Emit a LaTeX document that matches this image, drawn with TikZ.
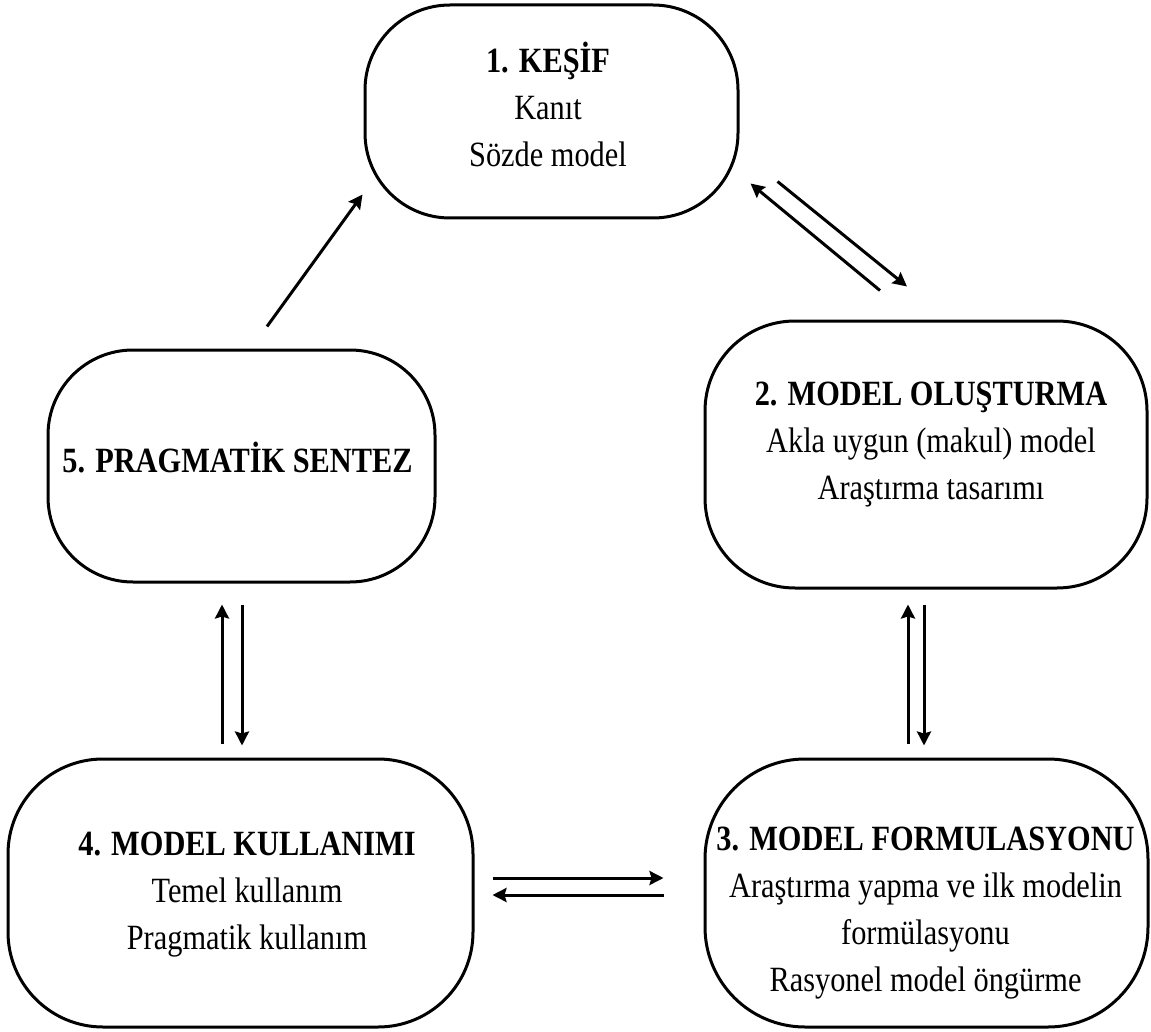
\documentclass[tikz,border=0pt]{standalone}
\usepackage{fontspec}
\setmainfont{Liberation Serif}[FakeStretch=0.855]
\usetikzlibrary{calc,arrows.meta}
\begin{document}
\begin{tikzpicture}[x=1pt,y=-1pt,
  box/.style={draw, line width=3pt, rounded corners=90pt, inner sep=0pt},
  txt/.style={align=center, font=\fontsize{35.5}{47}\selectfont, inner sep=0pt},
  arr/.style={line width=3pt, -{Stealth[length=14pt,width=14pt,inset=2pt]}}]
\useasboundingbox (0,0) rectangle (1151,1032);
% boxes
\node[box, minimum width=373pt, minimum height=213pt, rounded corners=85pt] (b1) at (551.5,111.5) {};
\node[box, minimum width=442pt, minimum height=267pt] (b2) at (926,454.5) {};
\node[box, minimum width=443pt, minimum height=268pt, rounded corners=100pt] (b3) at (926.5,893) {};
\node[box, minimum width=465pt, minimum height=268pt, rounded corners=95pt] (b4) at (240.5,893) {};
\node[box, minimum width=387pt, minimum height=232pt, rounded corners=85pt] (b5) at (241.5,466) {};
% texts
\node[txt] (t1) at (548,104) {\textbf{1. KEŞİF}\\Kanıt\\Sözde model};
\node[txt] (t2) at (931,445) {\textbf{2. MODEL OLUŞTURMA}\\Akla uygun (makul) model\\Araştırma tasarımı};
\node[txt] (t3) at (925.5,913) {\textbf{3. MODEL FORMULASYONU}\\Araştırma yapma ve ilk modelin\\formülasyonu\\Rasyonel model öngürme};
\node[txt] (t4) at (247,895) {\textbf{4. MODEL KULLANIMI}\\Temel kullanım\\Pragmatik kullanım};
\node[txt] (t5) at (237.5,458) {\textbf{5. PRAGMATİK SENTEZ}};
% connectors
\draw[arr] ($(b5.north)+(25.5,-22)$) -- ($(b1.south west)+(-1,-25)$);
\draw[arr] ($(b2.north)+(-46,-29)$) -- ($(b1.south east)+(11,-36)$);
\draw[arr] ($(b1.south east)+(38,-38)$) -- ($(b2.north)+(-19,-33)$);
\draw[arr] ($(b3.north)+(-18.5,-14)$) -- ($(b2.south)+(-18,15)$);
\draw[arr] ($(b2.south)+(-2,15)$) -- ($(b3.north)+(-2.5,-12)$);
\draw[arr] ($(b4.north)+(-18.5,-14)$) -- ($(b5.south)+(-19.5,21)$);
\draw[arr] ($(b5.south)+(0.5,21)$) -- ($(b4.north)+(1.5,-12)$);
\draw[arr] ($(b4.east)+(18,-15)$) -- ($(b3.west)+(-40,-15)$);
\draw[arr] ($(b3.west)+(-40,2)$) -- ($(b4.east)+(18,2)$);
\end{tikzpicture}
\end{document}
